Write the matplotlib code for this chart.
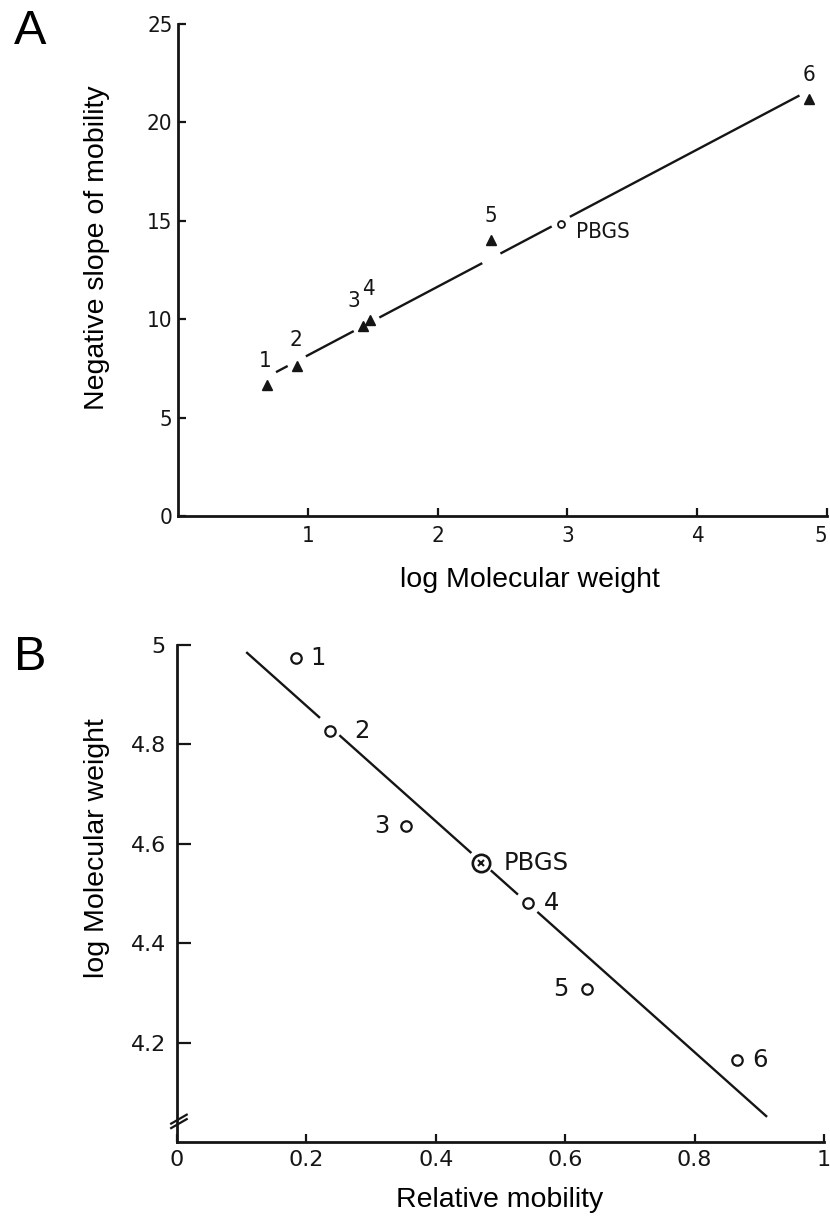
import numpy as np
import matplotlib
matplotlib.use("Agg")
import matplotlib.pyplot as plt
from matplotlib import font_manager

# Panel A: negative slope of mobility vs log molecular weight
a_names = ["1", "2", "3", "4", "5", "6"]
a_logmw = [0.685, 0.915, 1.424, 1.481, 2.414, 4.858]
a_slope = [6.65, 7.61, 9.67, 9.94, 14.04, 21.21]
a_pbgs_logmw = 2.949
a_pbgs_slope = 14.86

# Panel B: log molecular weight vs relative mobility
b_names = ["1", "2", "3", "4", "5", "6"]
b_mobility = [0.184, 0.236, 0.354, 0.542, 0.634, 0.865]
b_logmw = [4.974, 4.827, 4.636, 4.480, 4.308, 4.165]
b_pbgs_mobility = 0.470
b_pbgs_logmw = 4.561

a_xticks = [1, 2, 3, 4, 5]
a_yticks = [0, 5, 10, 15, 20, 25]
b_xticks = [0, 0.2, 0.4, 0.6, 0.8, 1]
b_xticklabels = ["0", "0.2", "0.4", "0.6", "0.8", "1"]
b_yticks = [4.2, 4.4, 4.6, 4.8, 5]
b_yticklabels = ["4.2", "4.4", "4.6", "4.8", "5"]

# label offsets (pixels) from each point
a_offsets = [(-2, 24), (-1, 26), (-9, 25), (-2, 31), (-1, 24), (0, 24)]
b_offsets = [(22, 0), (32, 0), (-24, 0), (24, 0), (-26, 0), (23, 0)]

# fonts
names = {f.name for f in font_manager.fontManager.ttflist}
narrow = "Liberation Sans Narrow" if "Liberation Sans Narrow" in names else "DejaVu Sans"
sans = "Liberation Sans"
ink = "#151515"

W, H = 830, 1221
fig = plt.figure(figsize=(W / 100, H / 100), dpi=100)


def px_axes(l, t, r, b):
    return fig.add_axes([l / W, 1 - b / H, (r - l) / W, (b - t) / H])


def style_axes(ax):
    for s in ["top", "right"]:
        ax.spines[s].set_visible(False)
    for s in ["left", "bottom"]:
        ax.spines[s].set_linewidth(2)
        ax.spines[s].set_color(ink)
    ax.tick_params(direction="in", length=6, width=1.6, color=ink)


def txt(x, y, s, **kw):
    fig.text(x / W, 1 - y / H, s, **kw)


# ---------------- Panel A ----------------
axA = px_axes(178, 24, 827, 516)
style_axes(axA)
axA.set_xlim(0, 5)
axA.set_ylim(0, 25)

fpA = font_manager.FontProperties(family=narrow, stretch="condensed", size=16)
axA.set_xticks(a_xticks, [str(t) for t in a_xticks], fontproperties=fpA, color=ink)
axA.set_yticks(a_yticks, [str(t) for t in a_yticks], fontproperties=fpA, color=ink)
axA.tick_params(axis="x", pad=7)
axA.tick_params(axis="y", pad=4)
# last x label sits at the right edge of the figure
axA.get_xticklabels()[-1].set_ha("right")

# fitted line, broken around the plotted points
coefA = np.polyfit(a_logmw, a_slope, 1)
xs = sorted(a_logmw + [a_pbgs_logmw])
gapA = 0.07
for lo, hi in zip(xs[:-1], xs[1:]):
    s, e = lo + gapA, hi - gapA
    if e > s:
        axA.plot([s, e], np.polyval(coefA, [s, e]), color=ink, lw=1.7,
                 solid_capstyle="butt")

axA.plot(a_logmw, a_slope, ls="none", marker="^", ms=6.5, color=ink)
axA.plot([a_pbgs_logmw], [a_pbgs_slope], ls="none", marker="o", ms=5,
         mfc="white", mec=ink, mew=1.3)

for name, x, y, off in zip(a_names, a_logmw, a_slope, a_offsets):
    axA.annotate(name, (x, y), xytext=off, textcoords="offset pixels",
                 ha="center", va="center", fontproperties=fpA, color=ink)
axA.annotate("PBGS", (a_pbgs_logmw, a_pbgs_slope), xytext=(15, -8),
             textcoords="offset pixels", ha="left", va="center",
             fontproperties=fpA, color=ink)

# ---------------- Panel B ----------------
axB = px_axes(177, 645, 824, 1142)
style_axes(axB)
axB.set_xlim(0, 1)
axB.set_ylim(4.0, 5.0)
axB.tick_params(axis="y", length=10)

fpB = font_manager.FontProperties(family="DejaVu Sans", size=16)
fpB2 = font_manager.FontProperties(family="DejaVu Sans", size=17.5)
axB.set_xticks(b_xticks, b_xticklabels, fontproperties=fpB, color=ink)
axB.set_yticks(b_yticks, b_yticklabels, fontproperties=fpB, color=ink)
axB.tick_params(axis="x", pad=6)
axB.tick_params(axis="y", pad=8)

coefB = np.polyfit(b_mobility, b_logmw, 1)
line_start, line_end = 0.107, 0.912
gapB = 0.015
on_line = sorted(x for x, y in zip(b_mobility + [b_pbgs_mobility],
                                   b_logmw + [b_pbgs_logmw])
                 if abs(y - np.polyval(coefB, x)) < 0.03)
cuts = [line_start]
for x in on_line:
    cuts += [x - gapB, x + gapB]
cuts.append(line_end)
for s, e in zip(cuts[0::2], cuts[1::2]):
    axB.plot([s, e], np.polyval(coefB, [s, e]), color=ink, lw=1.7,
             solid_capstyle="butt")

axB.plot(b_mobility, b_logmw, ls="none", marker="o", ms=7.5,
         mfc="white", mec=ink, mew=1.6)
axB.plot([b_pbgs_mobility], [b_pbgs_logmw], ls="none", marker="o", ms=12.5,
         mfc="white", mec=ink, mew=1.9)
axB.plot([b_pbgs_mobility], [b_pbgs_logmw], ls="none", marker="x", ms=5,
         mec=ink, mew=1.5)

for name, x, y, off in zip(b_names, b_mobility, b_logmw, b_offsets):
    axB.annotate(name, (x, y), xytext=off, textcoords="offset pixels",
                 ha="center", va="center", fontproperties=fpB2, color=ink)
axB.annotate("PBGS", (b_pbgs_mobility, b_pbgs_logmw), xytext=(23, 0),
             textcoords="offset pixels", ha="left", va="center",
             fontproperties=fpB2, color=ink)

# axis break marks on the y axis
for dy in (0.0, 0.009):
    axB.plot([-0.009, 0.015], [0.028 + dy, 0.046 + dy], color=ink, lw=1.6,
             transform=axB.transAxes, clip_on=False)

# ---------------- labels ----------------
txt(30, 32, "A", fontsize=35, family=sans, ha="center", va="center")
txt(30, 657, "B", fontsize=35, family=sans, ha="center", va="center")
txt(97, 248, "Negative slope of mobility", fontsize=20.5, family=sans,
    rotation=90, ha="center", va="center")
txt(530, 580, "log Molecular weight", fontsize=20.5, family=sans,
    ha="center", va="center")
txt(97, 848, "log Molecular weight", fontsize=20.5, family=sans,
    rotation=90, ha="center", va="center")
txt(500, 1200, "Relative mobility", fontsize=20.5, family=sans,
    ha="center", va="center")

fig.savefig("out.png", dpi=100, facecolor="white")
